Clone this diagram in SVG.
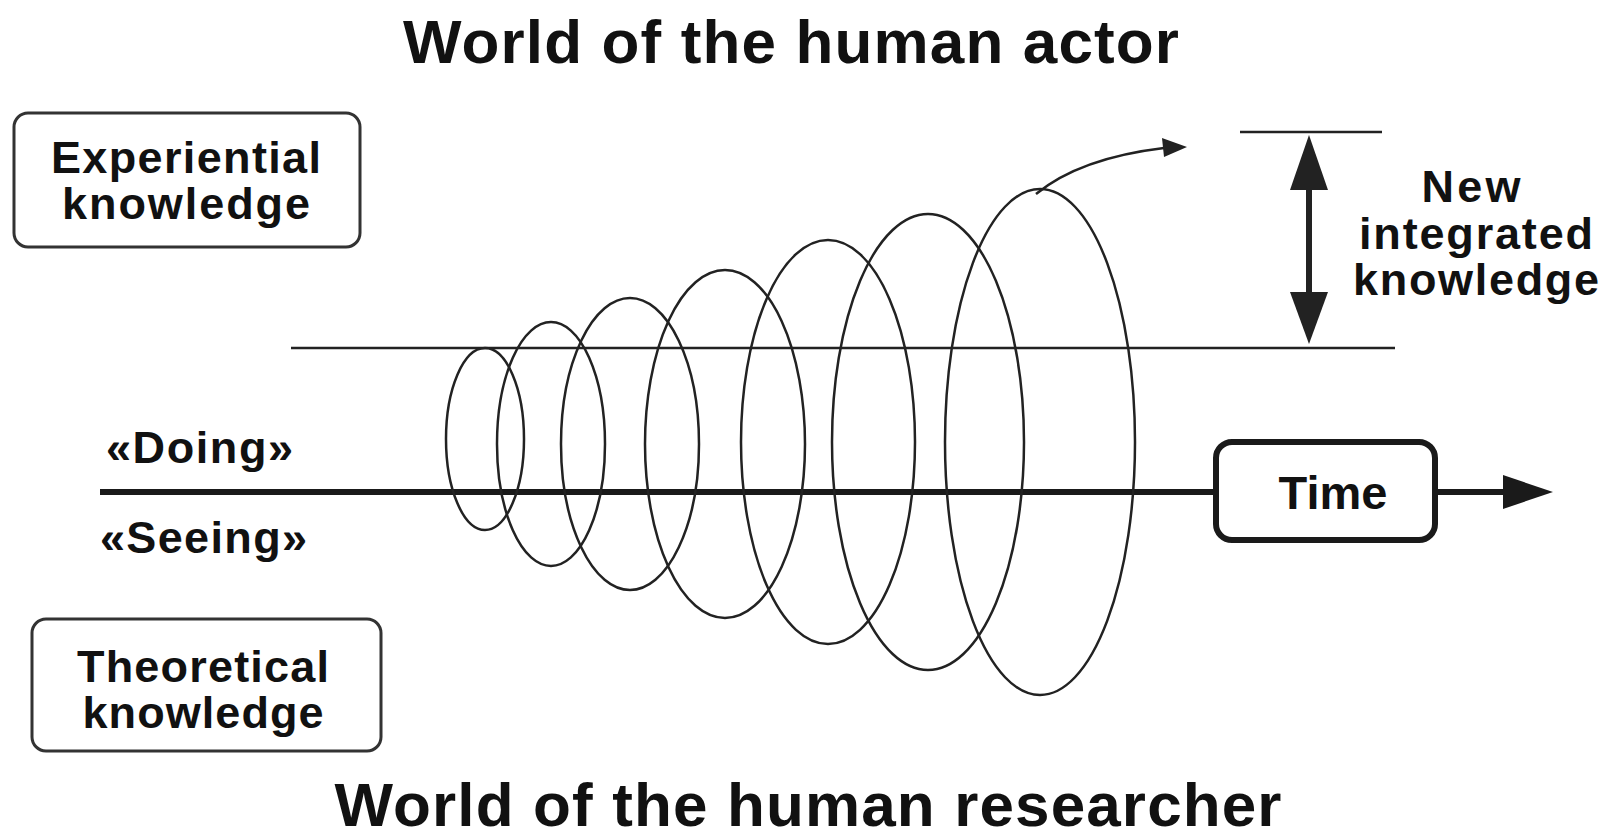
<svg xmlns="http://www.w3.org/2000/svg" width="1614" height="837" viewBox="0 0 1614 837">
<style>
text{font-family:"Liberation Sans",Arial,sans-serif;font-weight:bold;fill:#111}
.title{font-size:62px}
.lbl{font-size:45px}
.box{fill:#fff;stroke:#333;stroke-width:3}
.loop{fill:none;stroke:#222;stroke-width:2.5}
.thin{stroke:#222;stroke-width:2.5}
</style>
<rect width="1614" height="837" fill="#fff"/>
<g id="title-top"><text class="title" x="791" y="63" text-anchor="middle" textLength="776">World of the human actor</text></g>
<g id="title-bottom"><text class="title" x="808" y="826" text-anchor="middle" textLength="947">World of the human researcher</text></g>
<g id="experiential">
<rect class="box" x="14" y="113" width="346" height="134" rx="14"/>
<text class="lbl" x="186" y="173" text-anchor="middle" textLength="270">Experiential</text>
<text class="lbl" x="186" y="219" text-anchor="middle" textLength="248">knowledge</text>
</g>
<g id="theoretical">
<rect class="box" x="32" y="619" width="349" height="132" rx="14"/>
<text class="lbl" x="203" y="682" text-anchor="middle" textLength="252">Theoretical</text>
<text class="lbl" x="203" y="728" text-anchor="middle" textLength="241">knowledge</text>
</g>
<g id="doing"><text class="lbl" x="106" y="463" font-size="42" textLength="187">«Doing»</text></g>
<g id="seeing"><text class="lbl" x="100" y="553" font-size="42" textLength="207">«Seeing»</text></g>
<g id="new-knowledge">
<text class="lbl" x="1471" y="202" text-anchor="middle" textLength="99">New</text>
<text class="lbl" x="1476" y="249" text-anchor="middle" textLength="234">integrated</text>
<text class="lbl" x="1476" y="295" text-anchor="middle" textLength="246">knowledge</text>
</g>
<g id="connectors">
<line class="thin" x1="291" y1="348" x2="1395" y2="348"/>
<line class="thin" x1="1240" y1="132" x2="1382" y2="132"/>
<line x1="100" y1="492" x2="1510" y2="492" stroke="#1a1a1a" stroke-width="6"/>
<path d="M1503,475L1553,492L1503,509z" fill="#1a1a1a"/>
<line x1="1309" y1="180" x2="1309" y2="300" stroke="#222" stroke-width="6"/>
<path d="M1309,135L1328,190L1290,190z" fill="#222"/>
<path d="M1309,344L1328,292L1290,292z" fill="#222"/>
<path d="M1036,194 Q1080,158 1164,148" fill="none" stroke="#222" stroke-width="2.5"/>
<path d="M1162,138L1187,147L1164,157z" fill="#222"/>
<g id="spiral">
<ellipse class="loop" cx="485" cy="439" rx="39" ry="91"/>
<ellipse class="loop" cx="551" cy="444" rx="54" ry="122"/>
<ellipse class="loop" cx="630" cy="444" rx="69" ry="146"/>
<ellipse class="loop" cx="725" cy="444" rx="80" ry="174"/>
<ellipse class="loop" cx="828" cy="442" rx="87" ry="202"/>
<ellipse class="loop" cx="928" cy="442" rx="96" ry="228"/>
<ellipse class="loop" cx="1040" cy="442" rx="95" ry="253"/>
</g>
</g>
<g id="time">
<rect x="1216" y="442" width="219" height="98" rx="16" fill="#fff" stroke="#1a1a1a" stroke-width="6"/>
<text x="1333" y="509" font-size="47" text-anchor="middle">Time</text>
</g>
</svg>
